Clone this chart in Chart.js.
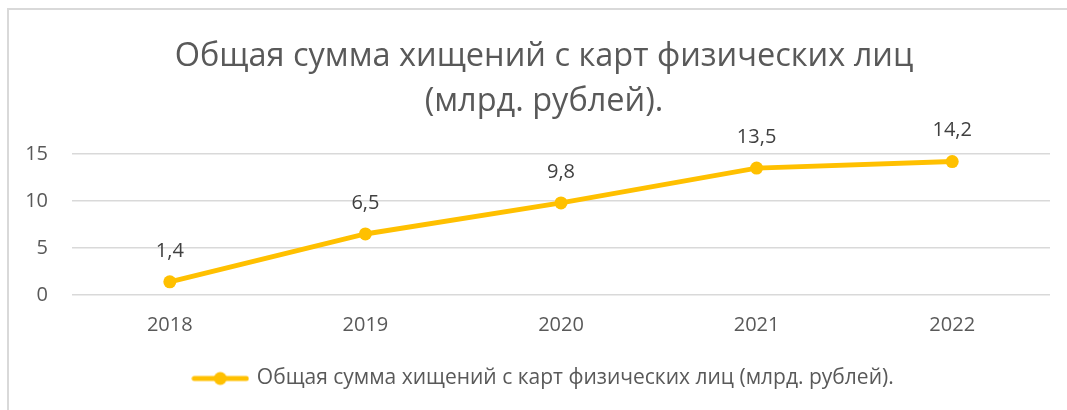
<!DOCTYPE html>
<html>
<head>
<meta charset="utf-8">
<script src="https://cdn.jsdelivr.net/npm/chart.js@4.4.1/dist/chart.umd.min.js"></script>
<style>
  html, body { margin: 0; padding: 0; background: #fff; overflow: hidden; }
  #frame { position: absolute; left: 7px; top: 8px; width: 1100px; height: 440px; border: 2px solid #d9d9d9; box-sizing: border-box; }
  #wrap { position: absolute; left: 0; top: 0; width: 1067px; height: 410px; overflow: hidden; }
</style>
</head>
<body>
<div id="frame"></div>
<!-- canvas is a bit wider than the window so the centred title/legend sit where the frame centre is -->
<div id="wrap"><canvas id="chart" width="1088" height="410"></canvas></div>
<script>
// data
const years = ['2018', '2019', '2020', '2021', '2022'];
const theftTotals = [1.4, 6.5, 9.8, 13.5, 14.2];
const yTicks = [0, 5, 10, 15];
const titleLines = ['Общая сумма хищений с карт физических лиц', '(млрд. рублей).'];
const seriesName = 'Общая сумма хищений с карт физических лиц (млрд. рублей).';

const FONT = '"Open Sans", "DejaVu Sans", sans-serif';
const GOLD = '#FFC000';

// legend icon: short line with a dot in the middle
const legendIcon = document.createElement('canvas');
legendIcon.width = 58;
legendIcon.height = 16;
(() => {
  const c = legendIcon.getContext('2d');
  c.strokeStyle = GOLD;
  c.lineWidth = 5;
  c.lineCap = 'round';
  c.beginPath();
  c.moveTo(3, 8);
  c.lineTo(55, 8);
  c.stroke();
  c.fillStyle = GOLD;
  c.beginPath();
  c.arc(29, 8, 6.5, 0, Math.PI * 2);
  c.fill();
})();

// values above the points, with comma decimals
const valueLabels = {
  id: 'valueLabels',
  afterDatasetsDraw(chart) {
    const ctx = chart.ctx;
    const meta = chart.getDatasetMeta(0);
    ctx.save();
    ctx.font = '20px ' + FONT;
    ctx.fillStyle = '#404040';
    ctx.textAlign = 'center';
    ctx.textBaseline = 'middle';
    meta.data.forEach((pt, i) => {
      ctx.fillText(String(theftTotals[i]).replace('.', ','), pt.x, pt.y - 31);
    });
    ctx.restore();
  }
};

new Chart(document.getElementById('chart'), {
  type: 'line',
  data: {
    labels: years,
    datasets: [{
      label: seriesName,
      data: theftTotals,
      borderColor: GOLD,
      backgroundColor: GOLD,
      borderWidth: 5,
      pointRadius: 6.5,
      pointBorderWidth: 0,
      pointBackgroundColor: GOLD,
      tension: 0,
      clip: false
    }]
  },
  options: {
    responsive: false,
    animation: false,
    layout: { padding: { left: 0, right: 0, top: 0, bottom: 11 } },
    scales: {
      x: {
        offset: true,
        grid: { display: false, drawTicks: false },
        border: { display: false },
        ticks: { color: '#595959', font: { family: FONT, size: 20 }, padding: 18 },
        afterFit(scale) { scale.height = 63; }
      },
      y: {
        min: 0,
        max: 15,
        afterBuildTicks(scale) { scale.ticks = yTicks.map(v => ({ value: v })); },
        grid: { color: '#d9d9d9', lineWidth: 1.5, drawTicks: false },
        border: { display: false },
        ticks: { color: '#595959', font: { family: FONT, size: 20 }, padding: 24 },
        afterFit(scale) { scale.width = 72; }
      },
      // empty spacer on the right side of the plot
      yRight: {
        position: 'right',
        grid: { display: false, drawTicks: false },
        border: { display: false },
        ticks: { display: false },
        afterFit(scale) { scale.width = 38; }
      }
    },
    plugins: {
      title: {
        display: true,
        text: titleLines,
        color: '#595959',
        font: { family: FONT, size: 32.5, weight: 'normal', lineHeight: 1.385 },
        padding: { top: 34, bottom: 30 }
      },
      legend: {
        position: 'bottom',
        labels: {
          color: '#595959',
          font: { family: FONT, size: 21 },
          usePointStyle: true,
          pointStyleWidth: 52,
          padding: 10,
          generateLabels(chart) {
            const items = Chart.defaults.plugins.legend.labels.generateLabels(chart);
            items.forEach(it => { it.pointStyle = legendIcon; });
            return items;
          }
        }
      },
      tooltip: { enabled: false }
    }
  },
  plugins: [valueLabels]
});
</script>
</body>
</html>
